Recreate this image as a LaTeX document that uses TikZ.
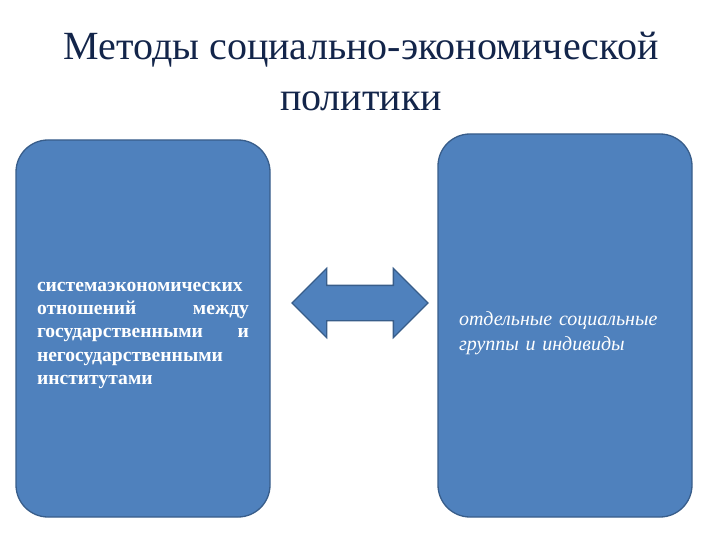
\documentclass[tikz,border=0pt]{standalone}
\usepackage{fontspec}
\setmainfont{Liberation Serif}
\usetikzlibrary{shapes.arrows, positioning}

\definecolor{boxfill}{HTML}{4F81BD}
\definecolor{boxline}{HTML}{385D8A}
\definecolor{titlecol}{HTML}{13254A}

\begin{document}
\begin{tikzpicture}[
    x=1pt, y=-1pt,
    block/.style={rectangle, draw=boxline, fill=boxfill, line width=1.3pt, rounded corners=32pt, minimum width=254pt, inner xsep=21pt, text width=212pt, text=white},
    twoway/.style={double arrow, draw=boxline, fill=boxfill, line width=1.3pt, minimum height=136pt, double arrow head extend=17pt, inner xsep=0pt, inner ysep=17pt}
]
\useasboundingbox (0,0) rectangle (720,540);

\node[anchor=north, align=center, text=titlecol, font=\fontsize{40}{51}\selectfont] (title) at (361,29) {Методы социально-экономической\\политики};

% extra strut on the first line pushes the text a little down
\node[block, minimum height=377pt, align=justify, font=\bfseries\fontsize{19.6}{23.3}\selectfont\hyphenpenalty10000\relax] (system) at (143,328.5)
  {\rule{0pt}{23pt}системаэкономических\linebreak отношений между\linebreak государственными и\linebreak негосударственными\\институтами};
\node[block, minimum height=383pt, align=left, font=\itshape\fontsize{20}{25}\selectfont] (groups) at (565,325.5)
  {\rule{0pt}{30pt}отдельные социальные\\группы и индивиды};

\node[twoway] (link) at (360,303) {};
\end{tikzpicture}
\end{document}
